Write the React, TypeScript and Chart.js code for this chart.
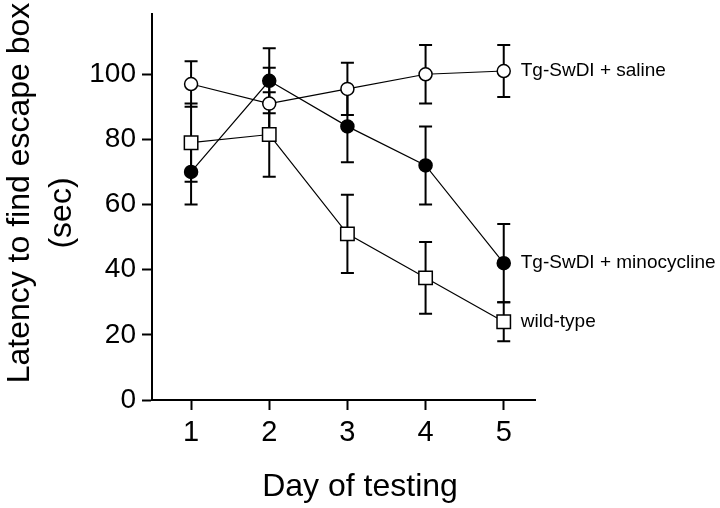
import React, { useEffect, useRef } from "react";
import { Chart, registerables } from "chart.js";

Chart.register(...registerables);

// ---- data ----
const days = [1, 2, 3, 4, 5];
const salineMean = [97, 91, 95.5, 100, 101];
const salineErr = [7, 11, 8, 9, 8];
const minoMean = [70, 98, 84, 72, 42];
const minoErr = [10, 10, 11, 12, 12];
const wtMean = [79, 81.5, 51, 37.5, 24];
const wtErr = [12, 13, 12, 11, 6];
const seriesNames = ["Tg-SwDI + saline", "Tg-SwDI + minocycline", "wild-type"];
const yTickValues = [0, 20, 40, 60, 80, 100];
const xTitle = "Day of testing";
const yTitleLines = ["Latency to find escape box", "(sec)"];

const FONT = "'Liberation Sans', Arial, Helvetica, sans-serif";
const errors = [salineErr, minoErr, wtErr];

const errorBarPlugin = {
  id: "errorBars",
  beforeDatasetsDraw(chart: any) {
    const { ctx } = chart;
    const xs = chart.scales.x;
    const ys = chart.scales.y;
    ctx.save();
    ctx.strokeStyle = "#000";
    ctx.lineWidth = 2;
    chart.data.datasets.forEach((ds: any, di: number) => {
      const err = errors[di];
      ds.data.forEach((p: any, i: number) => {
        const x = xs.getPixelForValue(p.x);
        const yt = ys.getPixelForValue(p.y + err[i]);
        const yb = ys.getPixelForValue(p.y - err[i]);
        const cap = 6.5;
        ctx.beginPath();
        ctx.moveTo(x, yt);
        ctx.lineTo(x, yb);
        ctx.moveTo(x - cap, yt);
        ctx.lineTo(x + cap, yt);
        ctx.moveTo(x - cap, yb);
        ctx.lineTo(x + cap, yb);
        ctx.stroke();
      });
    });
    ctx.restore();
  },
};

const textPlugin = {
  id: "texts",
  afterDraw(chart: any) {
    const { ctx } = chart;
    const xs = chart.scales.x;
    const ys = chart.scales.y;
    ctx.save();
    ctx.fillStyle = "#000";
    // series labels at the end of each line
    ctx.font = `19px ${FONT}`;
    ctx.textAlign = "left";
    ctx.textBaseline = "middle";
    chart.data.datasets.forEach((ds: any, di: number) => {
      const last = ds.data[ds.data.length - 1];
      ctx.fillText(
        seriesNames[di],
        xs.getPixelForValue(last.x) + 17,
        ys.getPixelForValue(last.y)
      );
    });
    // axis titles
    ctx.font = `32px ${FONT}`;
    ctx.textAlign = "center";
    ctx.textBaseline = "middle";
    ctx.fillText(xTitle, 360, 487);
    ctx.save();
    ctx.translate(20, 193);
    ctx.rotate(-Math.PI / 2);
    ctx.fillText(yTitleLines[0], 0, 0);
    ctx.restore();
    ctx.save();
    ctx.translate(62, 213);
    ctx.rotate(-Math.PI / 2);
    ctx.fillText(yTitleLines[1], 0, 0);
    ctx.restore();
    ctx.restore();
  },
};

export default function App() {
  const ref = useRef<HTMLCanvasElement | null>(null);

  useEffect(() => {
    if (!ref.current) return;
    const mk = (arr: number[]) => days.map((d, i) => ({ x: d, y: arr[i] }));
    const chart = new Chart(ref.current, {
      type: "line",
      data: {
        datasets: [
          {
            label: seriesNames[0],
            data: mk(salineMean),
            borderColor: "#000",
            borderWidth: 1.2,
            pointStyle: "circle",
            pointRadius: 6.5,
            pointBackgroundColor: "#fff",
            pointBorderColor: "#000",
            pointBorderWidth: 1.5,
          },
          {
            label: seriesNames[1],
            data: mk(minoMean),
            borderColor: "#000",
            borderWidth: 1.2,
            pointStyle: "circle",
            pointRadius: 6.5,
            pointBackgroundColor: "#000",
            pointBorderColor: "#000",
            pointBorderWidth: 1.5,
          },
          {
            label: seriesNames[2],
            data: mk(wtMean),
            borderColor: "#000",
            borderWidth: 1.2,
            pointStyle: "rect",
            pointRadius: 9.5,
            pointBackgroundColor: "#fff",
            pointBorderColor: "#000",
            pointBorderWidth: 1.5,
          },
        ],
      } as any,
      options: {
        animation: false,
        responsive: false,
        layout: { padding: { left: 0, top: 14, right: 185, bottom: 0 } },
        plugins: {
          legend: { display: false },
          tooltip: { enabled: false },
          title: { display: false },
        },
        scales: {
          x: {
            type: "linear",
            min: 0.5,
            max: 5.4,
            afterBuildTicks: (s: any) => {
              s.ticks = days.map((v) => ({ value: v }));
            },
            afterFit: (s: any) => {
              s.height = 108;
              s.paddingLeft = 0;
              s.paddingRight = 0;
            },
            grid: {
              drawOnChartArea: false,
              drawTicks: true,
              tickLength: 10,
              tickWidth: 2,
              tickColor: "#000",
            },
            border: { display: true, color: "#000", width: 2 },
            ticks: {
              color: "#000",
              font: { family: FONT, size: 29 },
              padding: 6,
              maxRotation: 0,
              autoSkip: false,
            },
          },
          y: {
            type: "linear",
            min: 0,
            max: 118.5,
            afterBuildTicks: (s: any) => {
              s.ticks = yTickValues.map((v) => ({ value: v }));
            },
            afterFit: (s: any) => {
              s.width = 152;
              s.paddingTop = 0;
              s.paddingBottom = 0;
            },
            grid: {
              drawOnChartArea: false,
              drawTicks: true,
              tickLength: 10,
              tickWidth: 2,
              tickColor: "#000",
            },
            border: { display: true, color: "#000", width: 2 },
            ticks: {
              color: "#000",
              font: { family: FONT, size: 28 },
              padding: 6,
              autoSkip: false,
            },
          },
        },
      } as any,
      plugins: [errorBarPlugin, textPlugin],
    });
    return () => chart.destroy();
  }, []);

  return (
    <div style={{ position: "absolute", left: 0, top: 0, width: 720, height: 508, background: "#fff" }}>
      <canvas ref={ref} width={720} height={508} />
    </div>
  );
}
